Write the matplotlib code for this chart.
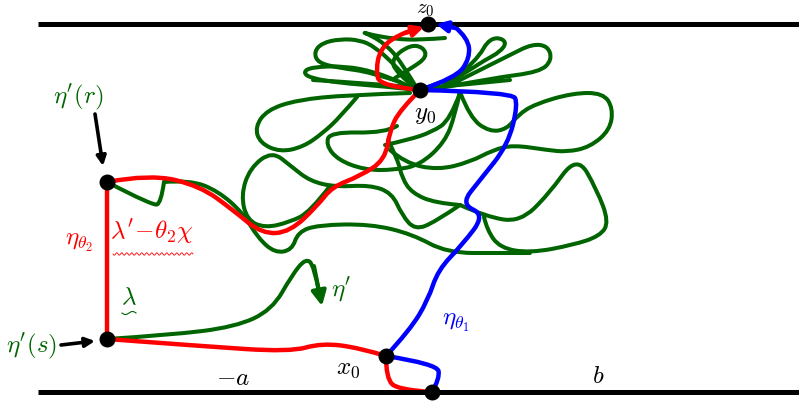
import matplotlib.pyplot as plt
import numpy as np
from matplotlib.path import Path
from matplotlib.patches import PathPatch

plt.rcParams['mathtext.fontset'] = 'cm'

GREEN = '#006400'
RED = '#ff0000'
BLUE = '#0000ff'

# picture coordinates (pixels, y downwards)
pt_z0 = (428, 24)
pt_y0 = (420, 90)
pt_r = (107, 182)
pt_s = (107, 339)
pt_x0 = (386, 356)
pt_bot = (432, 392)
dots = [pt_z0, pt_y0, pt_r, pt_s, pt_x0, pt_bot]

# red curve eta_theta2, in pieces
red_vertical = [pt_r, pt_s]
red_lower = [pt_s, (200, 346), (290, 352), (322, 343), (360, 348), pt_x0]
red_loop = [pt_x0, (386, 378), (398, 390), pt_bot]
red_upper = [pt_r, (150, 174), (200, 186), (233, 210), (262, 234), (290, 232),
             (318, 205), (332, 187), (360, 176), (385, 160), (390, 130), (400, 110), pt_y0]
red_top = [pt_y0, (380, 86), (376, 70), (380, 50), (395, 36), (415, 29), pt_z0]

# blue curve eta_theta1
blue_loop = [pt_bot, (440, 378), (437, 364), pt_x0]
blue_main = [pt_x0, (410, 330), (428, 300), (438, 270), (462, 245), (485, 215),
             (461, 204), (480, 180), (508, 145), (518, 104), (512, 92), pt_y0]
blue_top = [pt_y0, (456, 78), (470, 58), (468, 38), (455, 27), (440, 24)]

# green curve eta'
green_s = [pt_s, (170, 335), (235, 327), (272, 310), (292, 275), (306, 258),
           (314, 266), (319, 292), (322, 306)]
green_notch = [pt_r, (153, 206), (161, 203), (164, 182)]
green_strokes = [
    [(164, 182), (190, 180), (218, 191), (243, 213), (258, 238), (275, 253), (292, 250),
     (298, 232), (318, 225), (370, 224), (412, 234), (447, 253), (500, 253), (530, 253)],
    [(460, 205), (487, 217), (520, 222), (548, 195), (577, 155), (597, 190), (609, 222),
     (600, 236), (573, 245), (530, 253), (500, 248), (487, 230), (484, 217)],
    [(330, 186), (310, 212), (290, 222), (265, 228), (247, 220), (241, 195), (250, 168),
     (272, 151), (292, 167), (310, 181), (335, 187), (370, 185), (392, 193), (402, 215),
     (415, 230), (435, 222), (460, 205)],
    [(388, 140), (398, 160), (402, 178), (412, 193), (435, 203), (460, 205)],
    [(410, 93), (347, 95), (297, 100), (267, 110), (255, 127), (260, 143), (280, 152),
     (303, 147), (323, 133), (340, 117), (357, 97)],
    [(397, 126), (385, 133), (330, 132), (326, 145), (338, 160), (365, 170), (395, 170),
     (420, 165), (445, 142), (455, 115), (460, 92)],
    [(460, 92), (470, 118), (490, 132), (507, 129), (518, 115), (535, 104), (573, 93),
     (603, 93), (613, 108), (610, 130), (590, 147), (567, 152), (547, 150), (513, 145),
     (493, 150), (470, 162), (438, 170), (405, 163), (390, 150)],
    [(460, 93), (450, 120), (432, 132), (408, 140), (385, 145)],
    [(427, 88), (470, 84), (510, 80)],
    [(418, 90), (380, 86), (340, 83), (310, 78), (303, 72), (312, 67), (345, 66),
     (375, 72), (400, 82), (418, 90)],
    [(400, 82), (370, 72), (340, 68), (318, 63), (314, 52), (322, 43), (340, 39),
     (360, 40), (375, 47), (395, 65), (418, 90)],
    [(418, 90), (400, 60), (385, 44), (370, 35), (362, 32), (372, 35), (395, 39),
     (420, 40), (445, 38)],
    [(418, 90), (395, 72), (392, 58), (410, 45), (423, 47), (427, 57), (412, 68), (395, 78)],
    [(418, 90), (445, 82), (465, 70), (480, 55), (487, 42), (497, 37), (507, 42),
     (500, 52), (485, 60), (462, 75), (440, 88)],
    [(440, 88), (493, 78), (540, 72), (552, 60), (548, 46), (532, 44), (510, 55),
     (490, 65), (470, 75), (450, 85)],
    [(313, 80), (363, 83), (410, 87)],
]

labels = [
    (425, 114, r'$y_0$', 'black'),
    (78, 97, r"$\eta'(r)$", GREEN),
    (32, 346, r"$\eta'(s)$", GREEN),
    (233, 378, r'$-a$', 'black'),
    (348, 368, r'$x_0$', 'black'),
    (598, 376, r'$b$', 'black'),
    (79, 242, r'$\eta_{\theta_2}$', RED),
    (152, 232, r"$\lambda'\!-\!\theta_2\chi$", RED),
    (129, 297, r'$\lambda$', GREEN),
    (341, 290, r"$\eta'$", GREEN),
    (456, 322, r'$\eta_{\theta_1}$', BLUE),
]


def smooth(pts):
    pts = np.asarray(pts, float)
    if len(pts) == 2:
        return Path(pts, [Path.MOVETO, Path.LINETO])
    verts = [pts[0]]
    codes = [Path.MOVETO]
    for i in range(1, len(pts) - 1):
        end = pts[i + 1] if i == len(pts) - 2 else (pts[i] + pts[i + 1]) / 2
        verts += [pts[i], end]
        codes += [Path.CURVE3, Path.CURVE3]
    return Path(verts, codes)


def draw(ax, pts, color, lw):
    ax.add_patch(PathPatch(smooth(pts), fc='none', ec=color, lw=lw,
                           capstyle='round', joinstyle='round'))


fig = plt.figure(figsize=(7.99, 4.04), dpi=100)
ax = fig.add_axes([0, 0, 1, 1])
ax.set_xlim(0, 799)
ax.set_ylim(404, 0)
ax.axis('off')

# strip boundaries
ax.plot([38, 799], [24, 24], color='black', lw=3.6, solid_capstyle='butt')
ax.plot([38, 799], [392, 392], color='black', lw=3.6, solid_capstyle='butt')

for s in green_strokes:
    draw(ax, s, GREEN, 2.9)
draw(ax, green_notch, GREEN, 2.9)
draw(ax, green_s[:-1], GREEN, 2.9)
ax.annotate('', xy=green_s[-1], xytext=green_s[-3],
            arrowprops=dict(arrowstyle='-|>', color=GREEN, lw=2.9, mutation_scale=22,
                            shrinkA=0, shrinkB=0))

ax.plot(*zip(*red_vertical), color=RED, lw=3.2)
for s in (red_lower, red_loop, red_upper, red_top[:-1]):
    draw(ax, s, RED, 3.2)
ax.annotate('', xy=(424, 27), xytext=(405, 33),
            arrowprops=dict(arrowstyle='-|>', color=RED, lw=3.2, mutation_scale=16,
                            shrinkA=0, shrinkB=0))

for s in (blue_loop, blue_main, blue_top[:-1]):
    draw(ax, s, BLUE, 3.2)
ax.annotate('', xy=(436, 24), xytext=(455, 28),
            arrowprops=dict(arrowstyle='-|>', color=BLUE, lw=3.2, mutation_scale=16,
                            shrinkA=0, shrinkB=0))

# black arrows to eta'(r) and eta'(s)
ax.annotate('', xy=(103, 166), xytext=(95, 114),
            arrowprops=dict(arrowstyle='-|>', color='black', lw=2.6, mutation_scale=14,
                            shrinkA=0, shrinkB=0))
ax.annotate('', xy=(95, 341), xytext=(61, 345),
            arrowprops=dict(arrowstyle='-|>', color='black', lw=2.6, mutation_scale=14,
                            shrinkA=0, shrinkB=0))

ax.scatter(*zip(*dots), s=110, color='black', zorder=5)

for x, y, t, c in labels:
    ax.text(x, y, t, color=c, fontsize=18, ha='center', va='center')
ax.text(pt_z0[0] - 3, 19, r'$z_0$', color='black', fontsize=15, ha='center', va='bottom')

# wavy underlines
wx = np.linspace(113, 193, 200)
ax.plot(wx, 254 + 1.2 * np.sin((wx - 113) * 2 * np.pi / 5), color=RED, lw=0.6)
lx = np.linspace(122, 136, 60)
ax.plot(lx, 313 + 1.5 * np.sin((lx - 122) * 2 * np.pi / 14), color=GREEN, lw=0.8)

fig.savefig('out.png', dpi=100)
